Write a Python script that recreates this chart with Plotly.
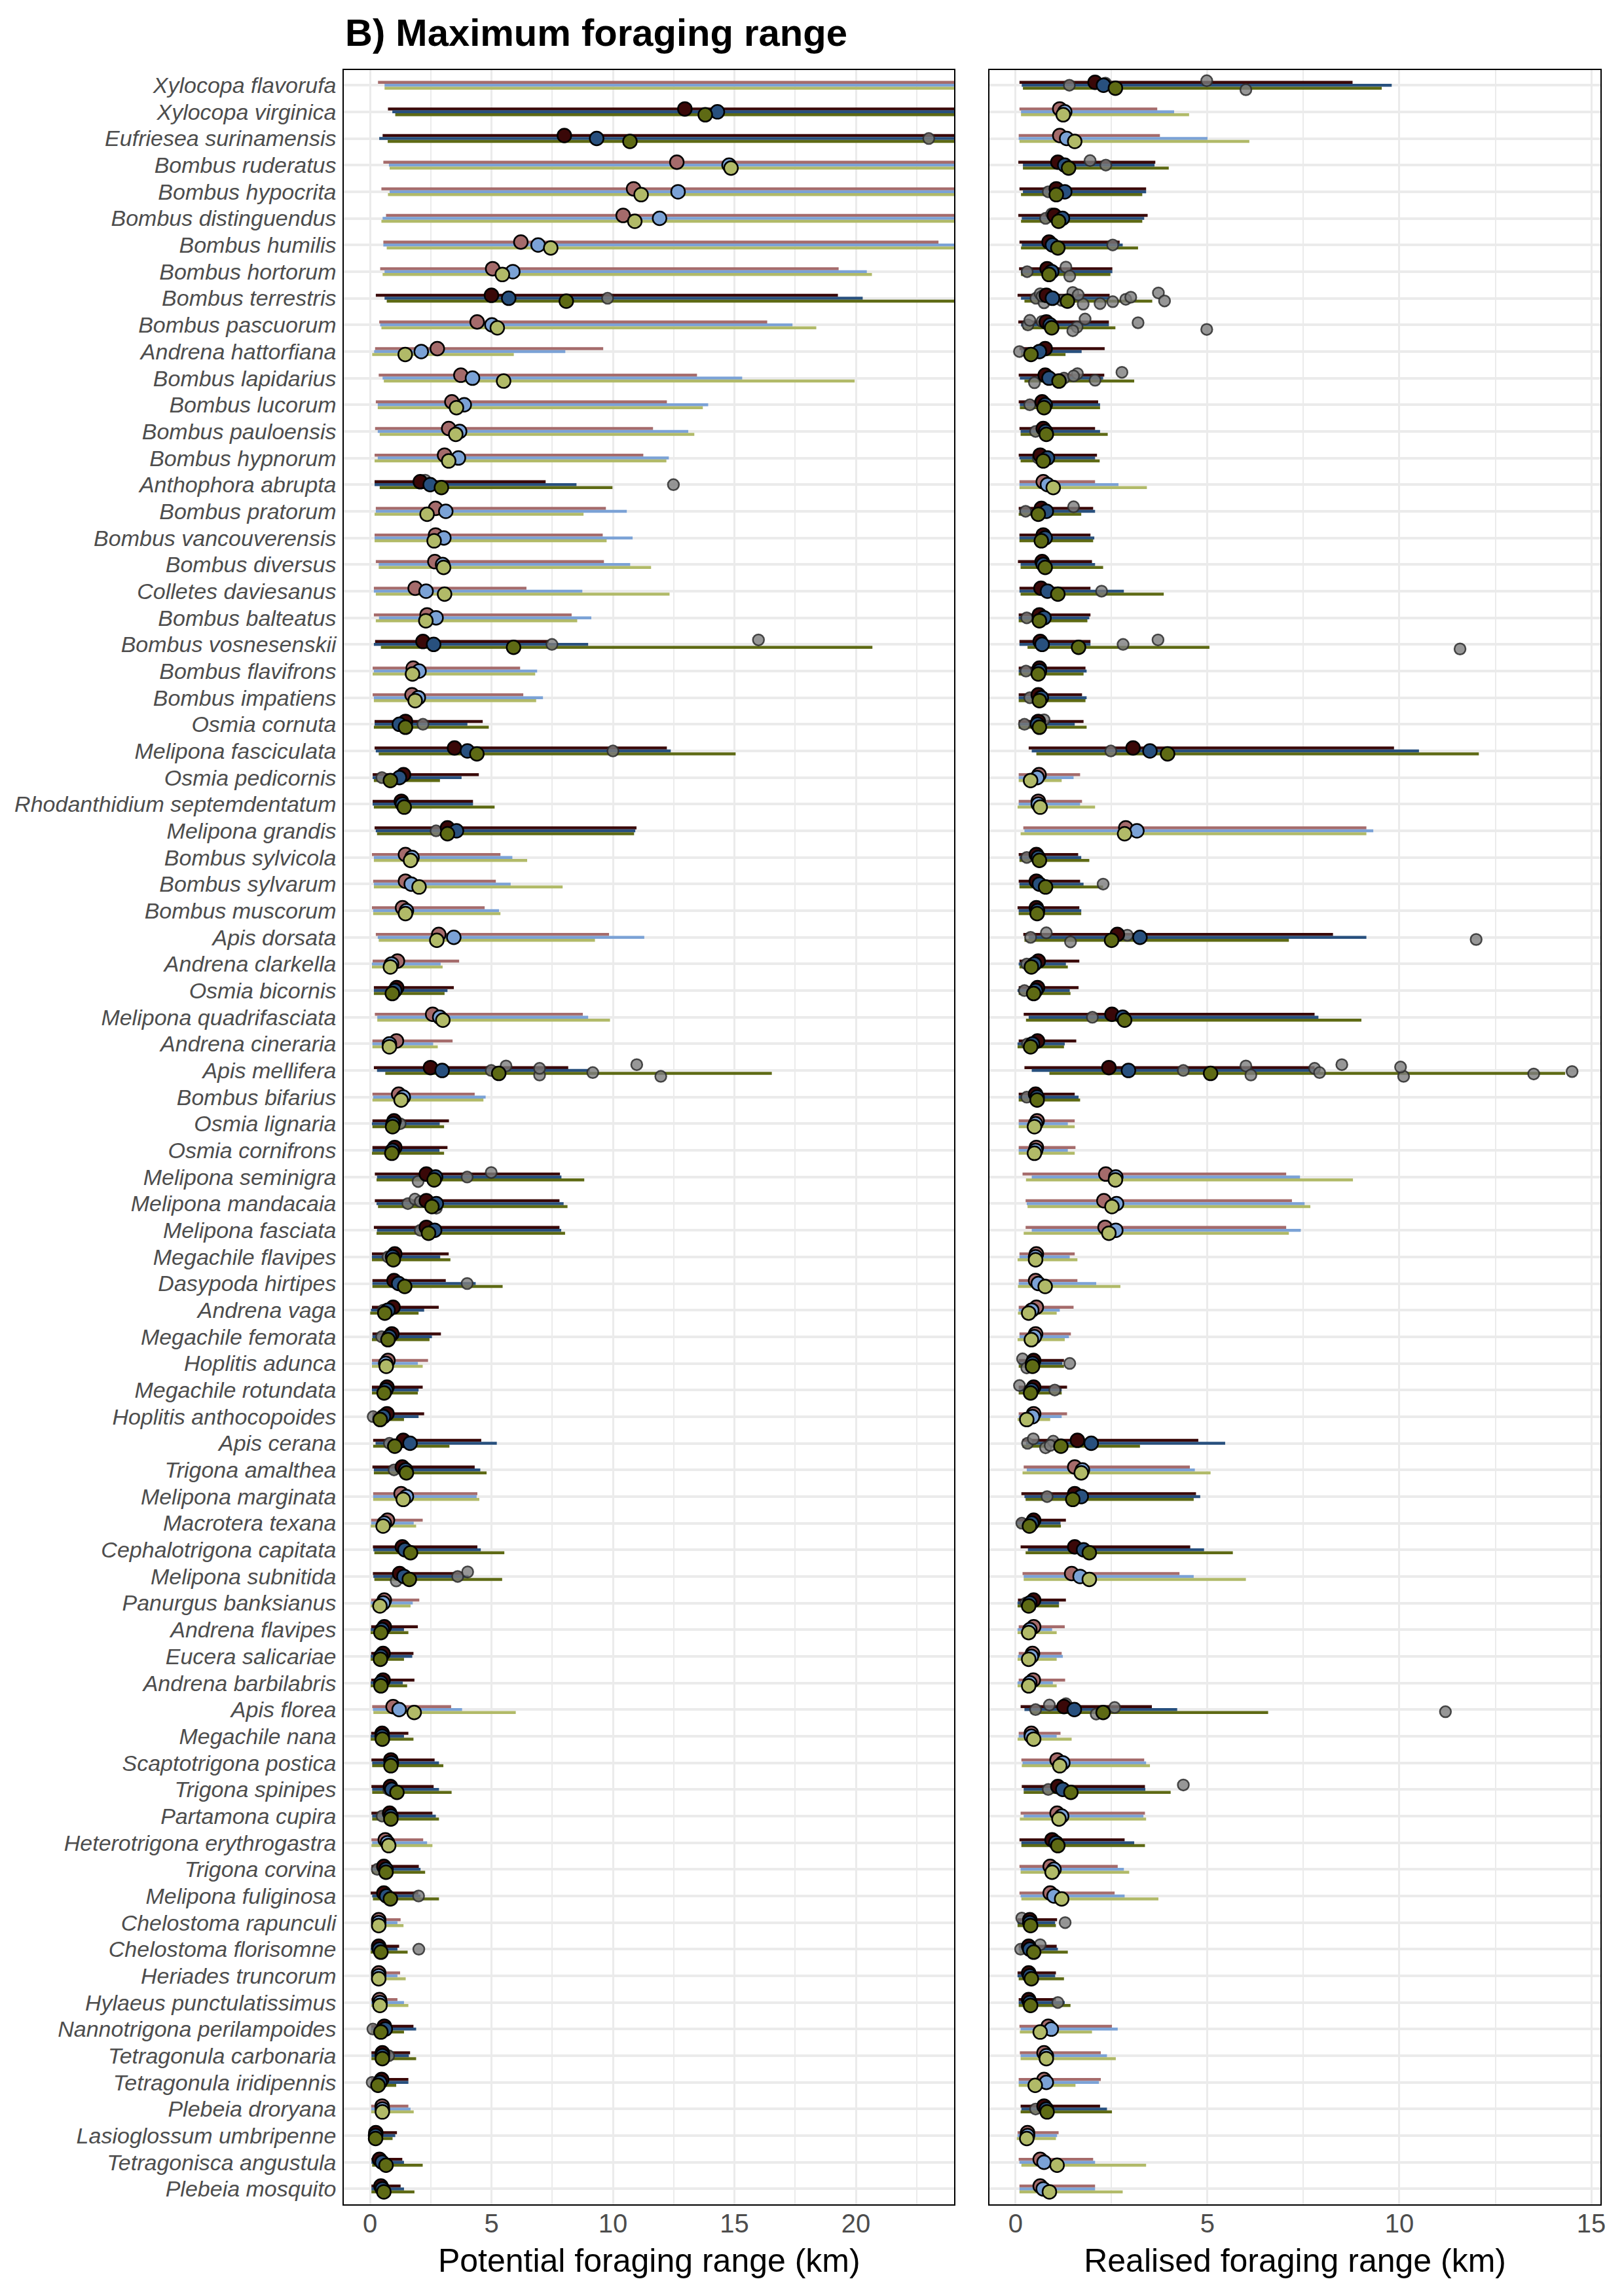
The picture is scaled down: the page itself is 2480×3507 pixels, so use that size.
import plotly.graph_objects as go

species = [
    "Xylocopa flavorufa", "Xylocopa virginica", "Eufriesea surinamensis", "Bombus ruderatus",
    "Bombus hypocrita", "Bombus distinguendus", "Bombus humilis", "Bombus hortorum",
    "Bombus terrestris", "Bombus pascuorum", "Andrena hattorfiana", "Bombus lapidarius",
    "Bombus lucorum", "Bombus pauloensis", "Bombus hypnorum", "Anthophora abrupta",
    "Bombus pratorum", "Bombus vancouverensis", "Bombus diversus", "Colletes daviesanus",
    "Bombus balteatus", "Bombus vosnesenskii", "Bombus flavifrons", "Bombus impatiens",
    "Osmia cornuta", "Melipona fasciculata", "Osmia pedicornis", "Rhodanthidium septemdentatum",
    "Melipona grandis", "Bombus sylvicola", "Bombus sylvarum", "Bombus muscorum",
    "Apis dorsata", "Andrena clarkella", "Osmia bicornis", "Melipona quadrifasciata",
    "Andrena cineraria", "Apis mellifera", "Bombus bifarius", "Osmia lignaria",
    "Osmia cornifrons", "Melipona seminigra", "Melipona mandacaia", "Melipona fasciata",
    "Megachile flavipes", "Dasypoda hirtipes", "Andrena vaga", "Megachile femorata",
    "Hoplitis adunca", "Megachile rotundata", "Hoplitis anthocopoides", "Apis cerana",
    "Trigona amalthea", "Melipona marginata", "Macrotera texana", "Cephalotrigona capitata",
    "Melipona subnitida", "Panurgus banksianus", "Andrena flavipes", "Eucera salicariae",
    "Andrena barbilabris", "Apis florea", "Megachile nana", "Scaptotrigona postica",
    "Trigona spinipes", "Partamona cupira", "Heterotrigona erythrogastra", "Trigona corvina",
    "Melipona fuliginosa", "Chelostoma rapunculi", "Chelostoma florisomne", "Heriades truncorum",
    "Hylaeus punctulatissimus", "Nannotrigona perilampoides", "Tetragonula carbonaria",
    "Tetragonula iridipennis", "Plebeia droryana", "Lasioglossum umbripenne",
    "Tetragonisca angustula", "Plebeia mosquito",
]

# ---------------- Potential foraging range (km) ----------------
pot_dark = [0,1,1,0,0,0,0,0,1,0, 0,0,0,0,0,1,0,0,0,0, 0,1,0,0,1,1,1,1,1,0,
            0,0,0,0,1,0,0,1,0,1, 1,1,1,1,1,1,1,1,0,1, 1,1,1,0,0,1,1,0,1,1,
            1,0,1,1,1,1,0,1,1,0, 1,0,0,1,1,1,0,1,1,1]

pot_lo_1 = [.33,.74,.52,.55,.47,.66,.55,.42,.24,.38, .21,.36,.24,.21,.19,.19,.24,.19,.24,.16,
            .16,.21,.11,.11,.19,.19,.11,.11,.19,.08, .13,.08,.24,.11,.16,.2,.1,.16,.1,.1,
            .1,.2,.2,.16,.08,.1,.08,.1,.08,.08, .1,.13,.1,.13,.05,.12,.12,.05,.05,.05,
            .05,.09,.05,.06,.06,.06,.06,.06,.03,.05, .05,.05,.05,.05,.06,.05,.05,0,.06,.06]
pot_est_1 = [30,12.96,8.0,12.63,10.85,10.42,6.21,5.05,5.0,4.41, 2.77,3.74,3.37,3.24,3.07,2.07,2.7,2.7,2.67,1.86,
             2.35,2.18,1.78,1.73,1.46,3.48,1.38,1.29,3.19,1.46, 1.46,1.34,2.83,1.13,1.1,2.58,1.09,2.49,1.18,.99,
             1.02,2.32,2.32,2.32,1.02,.99,.95,.9,.74,.7, .7,1.37,1.33,1.28,.72,1.33,1.22,.59,.59,.54,
             .54,.95,.5,.86,.84,.81,.63,.57,.57,.36, .36,.36,.39,.59,.51,.48,.5,.24,.39,.45]
pot_hi_1 = [50,50,50,50,50,50,23.4,19.29,19.26,16.35, 9.6,13.46,12.22,11.65,11.25,7.23,9.71,9.58,9.63,6.44,
            8.3,7.36,6.18,6.31,4.64,12.22,4.48,4.24,10.97,5.37, 5.18,4.72,9.84,3.67,3.45,8.76,3.4,8.16,4.31,3.25,
            3.19,7.82,7.8,7.8,3.24,3.12,2.83,2.92,2.39,2.17, 2.23,4.58,4.31,4.42,2.17,4.42,3.84,2.03,1.97,1.79,
            1.83,3.34,1.58,2.66,2.62,2.57,2.19,2.01,1.99,1.26, 1.2,1.24,1.13,1.79,1.65,1.58,1.58,1.11,1.33,1.26]

pot_lo_2 = [.6,.92,.38,.78,.81,.52,.55,.6,.6,.42, .17,.52,.32,.32,.32,.19,.24,.19,.36,.16,
            .37,.16,.16,.16,.19,.24,.11,.11,.24,.16, .16,.13,.32,.08,.16,.3,.1,.29,.13,.08,
            .1,.29,.27,.29,.08,.1,.04,.1,.08,.08, .08,.23,.16,.13,.05,.14,.14,.03,.03,.03,
            .03,.12,.03,.09,.09,.09,.09,.09,.09,.05, .03,.05,.05,.05,.06,.05,.05,.04,.06,.06]
pot_est_2 = [33,14.3,9.33,14.78,12.68,11.92,6.92,5.88,5.71,5.02, 2.11,4.22,3.88,3.69,3.64,2.48,3.12,3.04,2.99,2.31,
             2.72,2.62,2.02,1.99,1.21,4.01,1.21,1.34,3.56,1.73, 1.7,1.5,3.45,.89,1.02,2.87,.8,2.97,1.37,.95,
             .93,2.7,2.73,2.66,.93,1.18,.74,.8,.65,.65, .55,1.65,1.47,1.5,.59,1.44,1.4,.54,.5,.45,
             .45,1.2,.5,.88,.9,.86,.72,.66,.68,.36, .39,.36,.41,.63,.51,.41,.51,.23,.5,.51]
pot_hi_2 = [50,50,50,50,50,50,50,20.45,20.28,17.39, 8.04,15.32,13.92,13.1,12.3,8.5,10.57,10.81,10.71,8.74,
            9.11,8.98,6.88,7.12,4.01,12.38,3.77,4.24,10.92,5.86, 5.79,5.31,11.29,2.91,3.19,8.98,2.6,9.05,4.76,2.87,
            2.86,7.88,7.97,7.87,2.89,4.35,2.23,2.55,1.97,2.0, 2.0,5.22,4.54,4.39,1.8,4.56,4.06,1.76,1.4,1.74,
            1.35,3.79,1.4,2.84,2.84,2.71,2.35,2.08,2.08,1.13, 1.13,1.13,1.4,1.9,1.6,1.58,1.67,1.04,1.4,1.4]

pot_lo_3 = [.6,1.04,.73,.81,.74,.47,.69,.52,.69,.47, .09,.57,.32,.4,.19,.4,.19,.19,.36,.24,
            .24,.45,.11,.16,.16,.36,.16,.16,.29,.16, .16,.13,.36,.08,.16,.3,.1,.63,.1,.1,
            .08,.27,.33,.27,.08,.1,.01,.08,.08,.08, .08,.13,.16,.13,.03,.18,.18,.03,.03,.03,
            .03,.14,.03,.09,.09,.09,.06,.09,.12,.05, .03,.05,.05,.05,.06,.03,.05,0,.09,.06]
pot_est_3 = [32,13.8,10.7,14.86,11.16,10.9,7.44,5.45,8.08,5.24, 1.45,5.5,3.56,3.53,3.24,2.94,2.35,2.64,3.03,3.07,
             2.3,5.91,1.75,1.86,1.46,4.4,.84,1.41,3.19,1.67, 2.02,1.46,2.75,.84,.92,3.0,.8,5.3,1.28,.93,
             .9,2.64,2.55,2.41,.96,1.43,.61,.74,.67,.58, .42,1.02,1.5,1.37,.54,1.67,1.62,.41,.45,.43,
             .45,1.82,.51,.86,1.11,.86,.77,.66,.84,.36, .45,.36,.41,.45,.51,.33,.51,.23,.66,.57]
pot_hi_3 = [50,50,50,50,50,50,50,20.66,50,18.37, 5.92,19.95,13.7,13.35,12.2,9.98,8.79,9.74,11.57,12.33,
            8.53,20.68,6.8,6.84,4.89,15.05,2.88,5.13,10.87,6.47, 7.93,5.37,9.26,2.99,3.07,9.88,2.79,16.54,4.67,3.05,
            3.05,8.82,8.13,8.03,3.31,5.46,2.0,2.45,2.17,1.97, 1.4,3.27,4.8,4.5,1.9,5.53,5.44,1.67,1.58,1.4,
            1.53,6.0,1.79,3.02,3.36,2.84,2.57,2.27,2.84,1.38, 1.55,1.47,1.58,1.4,1.9,1.08,1.8,.93,2.17,1.83]

pot_obs_row = [3, 9, 16, 16, 22, 22, 25, 26, 27, 29,
               38, 38, 38, 38, 38, 38, 38, 40, 42, 42, 42, 43, 43, 43, 43, 44, 45, 46, 47, 48,
               51, 52, 53, 56, 57, 57, 57, 65, 66, 68, 69, 71, 74, 75, 76, 80]
pot_obs_km = [23.0, 9.78, 12.49, 2.27, 7.49, 15.99, 2.18, 10.0, .49, 2.72,
              4.99, 5.6, 6.98, 6.98, 9.17, 10.98, 11.97, 1.24, 4.0, 4.99, 1.98, 1.56, 1.85, 2.73, 2.07, 2.07, .74, 4.0, .55, .48,
              .13, .8, .99, 1.53, 3.61, 4.02, 1.08, .77, .5, .3, 2.0, 2.01, .12, .77, .09, .59]

# ---------------- Realised foraging range (km) ----------------
real_dark = [1,0,0,1,1,1,1,1,1,1, 1,1,1,1,1,0,1,1,1,1, 1,1,1,1,1,1,0,0,0,1,
             1,1,1,1,1,1,1,1,1,0, 0,0,0,0,0,0,0,0,1,1, 0,1,0,1,1,1,0,1,0,0,
             0,1,0,0,1,0,1,0,0,1, 1,1,1,0,0,0,1,0,0,0]

real_lo_1 = [.1,.1,.08,.07,.1,.07,.1,.09,.05,.07, .1,.08,.08,.1,.08,.1,.08,.1,.06,.1,
             .08,.1,.08,.08,.08,.34,.08,.08,.2,.08, .08,.05,.2,.1,.08,.21,.08,.23,.08,.08,
             .08,.18,.26,.26,.1,.08,.08,.1,.08,.08, .08,.18,.21,.15,.05,.13,.18,.06,.08,.08,
             .08,.13,.08,.15,.16,.13,.1,.1,.1,.05, .08,.05,.08,.1,.11,.08,.13,.05,.08,.1]
real_est_1 = [2.07,1.15,1.15,1.1,1.06,1.01,.87,.82,.8,.8, .77,.77,.69,.72,.64,.72,.67,.72,.69,.66,
              .62,.64,.62,.59,.59,3.06,.61,.59,2.87,.54, .54,.54,2.65,.59,.57,2.51,.57,2.43,.52,.56,
              .54,2.35,2.3,2.33,.54,.52,.54,.52,.47,.47, .47,1.61,1.54,1.54,.47,1.54,1.46,.47,.47,.44,
              .46,1.26,.41,1.08,1.1,1.08,.95,.9,.9,.37, .34,.34,.34,.85,.74,.74,.74,.31,.64,.64]
real_hi_1 = [8.78,3.69,3.76,3.64,3.4,3.44,2.71,2.52,2.45,2.43, 2.32,2.31,2.15,2.07,2.12,2.07,2.02,1.95,1.99,1.95,
             1.95,1.95,1.82,1.73,1.77,9.86,1.68,1.73,9.14,1.63, 1.68,1.66,8.27,1.66,1.64,7.79,1.58,7.79,1.54,1.54,
             1.56,7.05,7.2,7.05,1.54,1.61,1.51,1.44,1.26,1.34, 1.34,4.76,4.54,4.7,1.31,4.55,4.27,1.31,1.28,1.2,
             1.29,3.55,1.17,3.35,3.37,3.37,2.84,2.66,2.58,1.08, 1.07,1.05,1.05,2.51,2.22,2.22,2.2,1.12,2.02,2.07]

real_lo_2 = [.16,.14,.08,.19,.19,.16,.16,.14,.14,.14, .14,.11,.11,.13,.1,.1,.1,.1,.13,.1,
             .08,.1,.08,.08,.1,.42,.08,.08,.23,.1, .1,.08,.34,.08,.05,.34,.05,.42,.08,.08,
             .08,.42,.29,.42,.1,.08,.08,.1,.08,.08, .08,.27,.29,.23,.03,.32,.21,.05,.05,.06,
             .05,.23,.08,.18,.21,.21,.15,.13,.13,.05, .08,.05,.08,.13,.13,.08,.15,.05,.1,.1]
real_est_2 = [2.29,1.28,1.33,1.28,1.28,1.22,.96,.94,.96,.9, .62,.87,.77,.78,.83,.83,.8,.77,.72,.83,
              .74,.69,.62,.67,.57,3.5,.56,.59,3.16,.59, .62,.57,3.24,.49,.52,2.79,.44,2.94,.56,.52,
              .52,2.61,2.63,2.61,.52,.59,.42,.49,.44,.42, .44,1.97,1.74,1.71,.42,1.77,1.68,.37,.37,.41,
              .37,1.53,.41,1.23,1.23,1.2,1.05,1.0,1.0,.37, .37,.37,.37,.93,.8,.8,.8,.31,.74,.72]
real_hi_2 = [9.8,4.13,5.0,3.62,3.4,3.35,2.79,2.52,2.45,2.43, 1.72,2.28,2.2,2.2,2.07,2.68,2.07,2.05,2.07,2.82,
             1.92,1.95,1.85,1.85,1.54,10.51,1.51,1.68,9.32,1.71, 1.77,1.71,9.14,1.31,1.41,7.89,1.28,7.92,1.64,1.36,
             1.36,7.41,7.53,7.43,1.41,2.1,1.15,1.39,1.22,1.2, 1.2,5.46,4.67,4.81,1.17,4.91,4.64,1.13,.95,1.23,
             .97,4.21,1.07,3.4,3.38,3.33,3.09,2.82,2.84,1.03, 1.1,1.03,1.28,2.66,2.38,2.17,2.38,1.08,2.07,2.07]

real_lo_3 = [.19,.14,.1,.19,.14,.14,.14,.14,.23,.19, .14,.23,.11,.13,.13,.1,.08,.1,.13,.13,
             .08,.31,.08,.08,.08,.54,.08,.05,.13,.1, .1,.08,.23,.1,.08,.27,.05,.88,.08,.08,
             .08,.27,.31,.21,.05,.06,.06,.05,.08,.08, .05,.18,.18,.26,.05,.26,.21,.05,.05,.05,
             .05,.39,.05,.16,.21,.11,.15,.13,.15,.05, .1,.08,.08,.11,.13,.08,.13,.03,.15,.1]
real_est_3 = [2.6,1.24,1.54,1.38,1.06,1.12,1.1,.87,1.35,.94, .4,1.13,.74,.8,.72,.98,.59,.67,.77,1.1,
              .62,1.64,.59,.62,.62,3.96,.39,.64,2.84,.62, .78,.56,2.5,.41,.47,2.84,.39,5.08,.56,.49,
              .49,2.6,2.51,2.43,.52,.77,.34,.41,.44,.39, .29,1.18,1.71,1.49,.36,1.92,1.92,.34,.34,.34,
              .34,2.28,.47,1.15,1.44,1.13,1.1,.95,1.2,.39, .47,.41,.39,.64,.8,.51,.82,.29,1.08,.88]
real_hi_3 = [9.54,4.52,6.09,3.99,3.3,3.3,3.19,2.47,3.56,2.6, 1.3,3.09,2.2,2.4,2.19,3.42,1.71,2.02,2.28,3.86,
             1.87,5.05,1.77,1.82,1.85,12.07,1.2,2.07,9.14,1.92, 2.28,1.71,7.12,1.36,1.43,9.01,1.26,14.32,1.68,1.54,
             1.54,8.79,7.68,7.12,1.61,2.73,1.07,1.28,1.26,1.2, .9,3.24,5.08,4.64,1.18,5.66,6.0,1.13,1.07,1.07,
             1.07,6.58,1.46,3.5,4.04,3.4,3.37,2.96,3.72,1.05, 1.36,1.26,1.43,1.99,2.61,1.56,2.51,1.05,3.4,2.79]

real_obs_row = [1, 1, 1, 1, 4, 4, 5, 6, 6, 7, 8, 8, 8,
                9, 9, 9, 9, 9, 9, 9, 9, 9, 9, 9, 9, 9, 9,
                10, 10, 10, 10, 10, 10, 10, 10, 11, 12, 12, 12, 12, 12, 12, 13, 14, 15, 17, 17,
                20, 21, 22, 22, 22, 23, 24, 25, 25, 26, 30, 31, 33, 33, 33, 33, 33, 34, 35, 36, 37,
                38, 38, 38, 38, 38, 38, 38, 38, 38, 38, 39, 49, 49, 49, 50, 50,
                52, 52, 52, 52, 52, 54, 55, 58, 62, 62, 62, 62, 62, 62, 65, 65, 70, 70, 71, 71, 73, 77]
real_obs_km = [1.4, 4.98, 6.0, 2.34, 2.35, 1.94, .85, .78, .94, 2.53, .3, 1.31, 1.41,
               .53, .64, .74, .69, 1.2, 1.49, 1.76, 1.63, 2.53, 2.87, 3.0, 2.2, 3.72, 3.88,
               .32, .37, 4.98, 3.19, 1.6, 1.81, 1.49, .69, .1, 1.26, 1.61, .49, 1.51, 2.07, 2.77, .37, .52, .59, .26, 1.51,
               2.24, .29, 2.8, 3.71, 11.58, .27, .37, .23, .74, 2.48, .29, 2.28, .39, .8, 1.43, 2.91, 12.0, .29, .23, 2.0, .31,
               4.37, 6.0, 6.13, 7.79, 7.92, 8.5, 10.11, 10.03, 13.5, 14.5, .29, 1.41, .18, .29, 1.02, .1,
               .31, .46, .78, .98, .9, .82, .16, .27, .52, .88, 2.1, 2.58, 11.2, 1.31, .85, 4.37, 1.29, .16, .13, .64, 1.1, .52]

# ---------------- styling ----------------
FONT = "Liberation Sans"
W, H = 2480, 3507
LIGHT = ["#a56b6b", "#7ba2d6", "#b1ba68"]
DARK = ["#3a0808", "#28507e", "#5e6a14"]
OFFS = [-0.11, 0.0, 0.11]
JIT = [0.0, -0.17, 0.17, -0.08, 0.08, -0.22, 0.22, -0.13, 0.13, 0.04, -0.04, 0.2, -0.2, 0.1]

fig = go.Figure()


def add_panel(xa, ya, dark, models, obs_row, obs_km):
    # interval lines
    for m, (lo, est, hi) in enumerate(models):
        for flag, cols in ((0, LIGHT), (1, DARK)):
            xs, ys = [], []
            for i in range(len(species)):
                if dark[i] != flag:
                    continue
                xs += [lo[i], hi[i], None]
                ys += [i + OFFS[m], i + OFFS[m], None]
            fig.add_trace(go.Scatter(x=xs, y=ys, mode="lines", xaxis=xa, yaxis=ya,
                                     line=dict(color=cols[m], width=4.5),
                                     hoverinfo="skip", showlegend=False))
    # observed values
    count = {}
    gy = []
    for r in obs_row:
        k = count.get(r, 0)
        count[r] = k + 1
        gy.append(r - 1 + JIT[k % len(JIT)])
    fig.add_trace(go.Scatter(x=obs_km, y=gy, mode="markers", xaxis=xa, yaxis=ya,
                             marker=dict(size=17, color="rgba(125,125,125,0.8)",
                                         line=dict(color="rgba(45,45,45,0.85)", width=2.5)),
                             hoverinfo="skip", showlegend=False))
    # model estimates
    for m, (lo, est, hi) in enumerate(models):
        cols = [DARK[m] if dark[i] else LIGHT[m] for i in range(len(species))]
        fig.add_trace(go.Scatter(x=est, y=[i + OFFS[m] for i in range(len(species))],
                                 mode="markers", xaxis=xa, yaxis=ya,
                                 marker=dict(size=21, color=cols, line=dict(color="black", width=2.5)),
                                 hoverinfo="skip", showlegend=False))


add_panel("x", "y", pot_dark,
          [(pot_lo_1, pot_est_1, pot_hi_1), (pot_lo_2, pot_est_2, pot_hi_2), (pot_lo_3, pot_est_3, pot_hi_3)],
          pot_obs_row, pot_obs_km)
add_panel("x2", "y2", real_dark,
          [(real_lo_1, real_est_1, real_hi_1), (real_lo_2, real_est_2, real_hi_2), (real_lo_3, real_est_3, real_hi_3)],
          real_obs_row, real_obs_km)

ydom = [1 - 3367 / H, 1 - 107 / H]
grid = "#ebebeb"
common_x = dict(showgrid=True, gridcolor=grid, gridwidth=3, zeroline=False,
                showline=True, linecolor="black", linewidth=2, mirror=True,
                ticks="", tickfont=dict(family=FONT, size=40, color="#4d4d4d"),
                ticklabelstandoff=-7)
common_y = dict(domain=ydom, range=[79.58, -0.57], tickmode="array",
                tickvals=list(range(len(species))), showgrid=True, gridcolor=grid, gridwidth=4,
                zeroline=False, showline=True, linecolor="black", linewidth=2, mirror=True, ticks="")

fig.update_layout(
    width=W, height=H, margin=dict(l=0, r=0, t=0, b=0),
    paper_bgcolor="white", plot_bgcolor="white", showlegend=False,
    title=dict(text="<b>B) Maximum foraging range</b>", x=527 / W, xanchor="left",
               y=1 - 50 / H, yanchor="middle", font=dict(family=FONT, size=58, color="black")),
    xaxis=dict(domain=[527 / W, 1462 / W], range=[-1.07, 24.05], anchor="y",
               tickvals=[0, 5, 10, 15, 20], ticktext=["0", "5", "10", "15", "20"],
               minor=dict(tickvals=[2.5, 7.5, 12.5, 17.5, 22.5], showgrid=True, gridcolor=grid, gridwidth=2),
               title=dict(text="Potential foraging range (km)", standoff=18,
                          font=dict(family=FONT, size=50, color="black")),
               **common_x),
    xaxis2=dict(domain=[1516 / W, 2452 / W], range=[-0.68, 15.24], anchor="y2",
                tickvals=[0, 5, 10, 15], ticktext=["0", "5", "10", "15"],
                minor=dict(tickvals=[2.5, 7.5, 12.5], showgrid=True, gridcolor=grid, gridwidth=2),
                title=dict(text="Realised foraging range (km)", standoff=18,
                           font=dict(family=FONT, size=50, color="black")),
                **common_x),
    yaxis=dict(anchor="x", ticktext=species, ticklabelstandoff=3,
               tickfont=dict(family=FONT, size=34, color="#4d4d4d", style="italic"), **common_y),
    yaxis2=dict(anchor="x2", matches="y", ticktext=species, showticklabels=False, **common_y),
)

fig.write_html("out.html")
